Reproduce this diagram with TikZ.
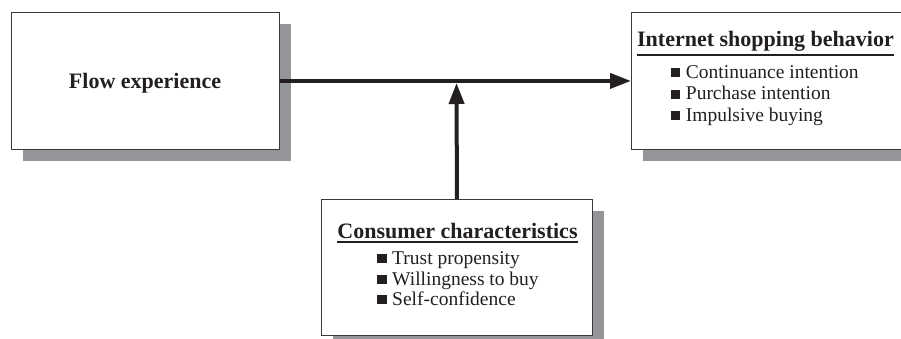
\documentclass[tikz,border=0pt]{standalone}
\usepackage{fontspec}
\setmainfont{Liberation Serif}
\usetikzlibrary{arrows.meta,shadows}
\definecolor{shade}{HTML}{939598}
\definecolor{ink}{HTML}{231F20}
\definecolor{edge}{HTML}{3A3A3A}
\newcommand\sqbul{\rule[1.3pt]{9.5pt}{9pt}\hspace{5.5pt}}
\begin{document}
\begin{tikzpicture}[x=1pt,y=-1pt,
  boxsty/.style={draw=edge, line width=0.9pt, fill=white, anchor=north west, inner sep=0pt,
    drop shadow={shadow xshift=11.5pt, shadow yshift=-12pt, fill=shade, opacity=1}},
  hdr/.style={font=\fontsize{22}{26}\selectfont\bfseries, inner sep=0pt, anchor=base, text=ink},
  item/.style={font=\fontsize{19.5}{22}\selectfont, inner sep=0pt, anchor=base west, text=ink},
  uline/.style={draw=ink, line width=1.6pt},
  conn/.style={draw=ink, line width=4pt, -{Triangle[length=21pt,width=15pt]}}]
\useasboundingbox (0,0) rectangle (901,339);
% boxes
\node[boxsty, minimum width=268pt, minimum height=137pt] (flow) at (11,12) {};
\node[boxsty, minimum width=285pt, minimum height=137pt] (isb) at (631,12) {};
\node[boxsty, minimum width=271pt, minimum height=136pt] (cons) at (321,199) {};
% texts
\node[hdr] (flowtxt) at (145,88.3) {Flow experience};
\node[hdr] (isbhd) at (765.5,46.7) {Internet shopping behavior};
\draw[uline] ([yshift=-3pt]isbhd.south west) -- ([yshift=-3pt]isbhd.south east);
\node[item] (isb1) at (670.7,78.3) {\sqbul Continuance intention};
\node[item] (isb2) at (670.7,100) {\sqbul Purchase intention};
\node[item] (isb3) at (670.7,121.7) {\sqbul Impulsive buying};
\node[hdr] (conshd) at (457.5,238.5) {Consumer characteristics};
\draw[uline] ([yshift=-3pt]conshd.south west) -- ([yshift=-3pt]conshd.south east);
\node[item] (cons1) at (377,264.3) {\sqbul Trust propensity};
\node[item] (cons2) at (377,285) {\sqbul Willingness to buy};
\node[item] (cons3) at (377,305.5) {\sqbul Self-confidence};
% connectors
\coordinate (join) at (456.5,83);
\draw[conn] (flow.east) -- (isb.west);
\draw[conn] (cons.north) -- (join);
\end{tikzpicture}
\end{document}
